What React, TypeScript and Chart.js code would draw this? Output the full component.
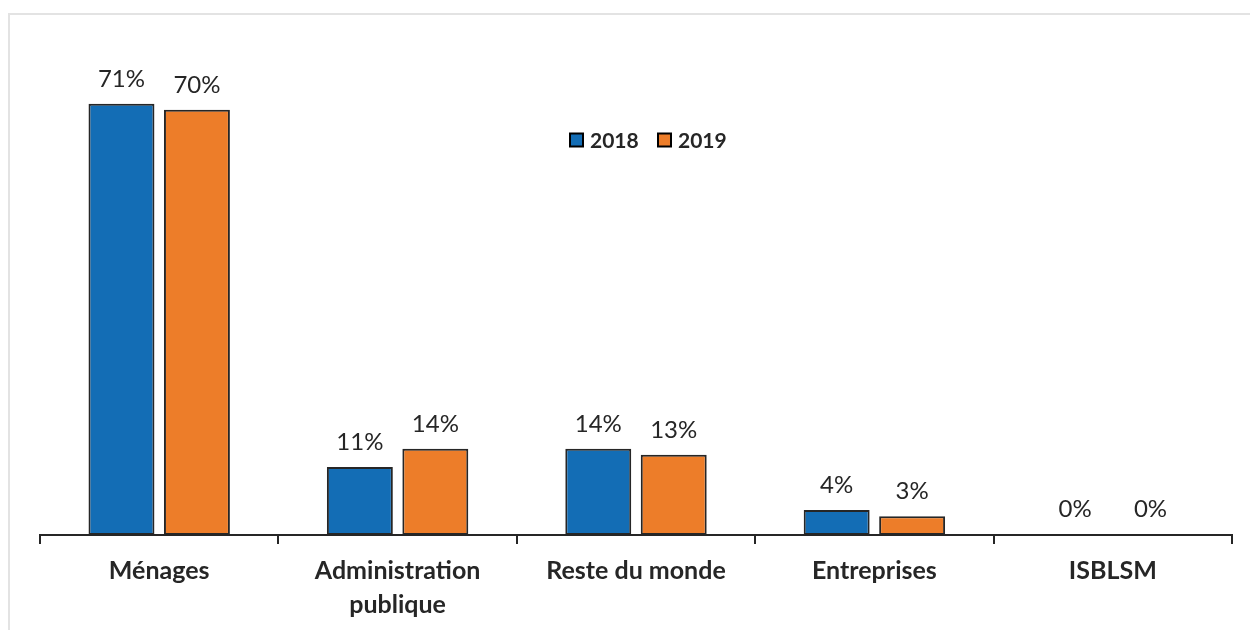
import React, { useEffect, useRef } from "react";
import { Chart, registerables } from "chart.js";

Chart.register(...registerables);

const categories: (string | string[])[] = [
  "Ménages",
  ["Administration", "publique"],
  "Reste du monde",
  "Entreprises",
  "ISBLSM",
];
const seriesNames = ["2018", "2019"];
const values2018 = [71, 11.2, 14.2, 4.1, 0.1];
const values2019 = [70, 14.2, 13.2, 3.1, 0.1];
const colors = ["#136DB5", "#ED7D29"];

const FONT = "Lato, 'Open Sans', sans-serif";
const TEXT = "#262626";

const labelPlugin = {
  id: "valueLabels",
  afterDatasetsDraw(chart: any) {
    const ctx = chart.ctx;
    ctx.save();
    ctx.font = `24px ${FONT}`;
    ctx.fillStyle = TEXT;
    ctx.textAlign = "center";
    ctx.textBaseline = "alphabetic";
    chart.data.datasets.forEach((ds: any, di: number) => {
      const meta = chart.getDatasetMeta(di);
      meta.data.forEach((bar: any, i: number) => {
        const v = ds.data[i];
        ctx.fillText(`${Math.round(v)}%`, bar.x, bar.y - 17);
      });
    });
    // legend
    const lx = 570;
    const ly = 140;
    ctx.font = `bold 21px ${FONT}`;
    ctx.textAlign = "left";
    ctx.textBaseline = "middle";
    const offsets = [0, 88];
    seriesNames.forEach((name, i) => {
      const x = lx + offsets[i];
      ctx.fillStyle = colors[i];
      ctx.fillRect(x, ly - 6.5, 13, 13);
      ctx.strokeStyle = "#000";
      ctx.lineWidth = 2;
      ctx.strokeRect(x, ly - 6.5, 13, 13);
      ctx.fillStyle = TEXT;
      ctx.fillText(name, x + 20, ly + 1);
    });
    ctx.restore();
  },
};

export default function App() {
  const ref = useRef<HTMLCanvasElement>(null);
  useEffect(() => {
    if (!ref.current) return;
    const chart = new Chart(ref.current, {
      type: "bar",
      data: {
        labels: categories,
        datasets: [values2018, values2019].map((d, i) => ({
          label: seriesNames[i],
          data: d,
          backgroundColor: colors[i],
          borderColor: "#262626",
          borderWidth: 2,
          borderSkipped: false,
          categoryPercentage: 0.633,
          barPercentage: 0.874,
        })),
      },
      options: {
        animation: false,
        responsive: false,
        maintainAspectRatio: false,
        layout: { padding: { left: 40, right: 18, top: 49, bottom: -2 } },
        plugins: {
          legend: { display: false },
          tooltip: { enabled: false },
        },
        scales: {
          x: {
            grid: {
              offset: true,
              drawOnChartArea: false,
              drawTicks: true,
              tickLength: 9,
              color: "#262626",
              lineWidth: 2,
            },
            border: { display: true, color: "#262626", width: 2 },
            ticks: {
              color: TEXT,
              font: { family: FONT, size: 25, weight: "bold", lineHeight: 1.36 },
              padding: 10,
              maxRotation: 0,
              autoSkip: false,
            },
          },
          y: {
            display: false,
            min: 0,
            max: 80,
          },
        },
      },
      plugins: [labelPlugin],
    });
    return () => chart.destroy();
  }, []);

  return (
    <div style={{ position: "absolute", left: 0, top: 0, width: 1250, height: 630, background: "#fff", overflow: "hidden" }}>
      <div style={{ position: "absolute", left: 9, top: 13, right: 0, height: 2, background: "#e3e3e3" }} />
      <div style={{ position: "absolute", left: 8, top: 13, width: 2, bottom: 0, background: "#e3e3e3" }} />
      <canvas ref={ref} width={1250} height={630} style={{ position: "absolute", left: 0, top: 0 }} />
    </div>
  );
}
